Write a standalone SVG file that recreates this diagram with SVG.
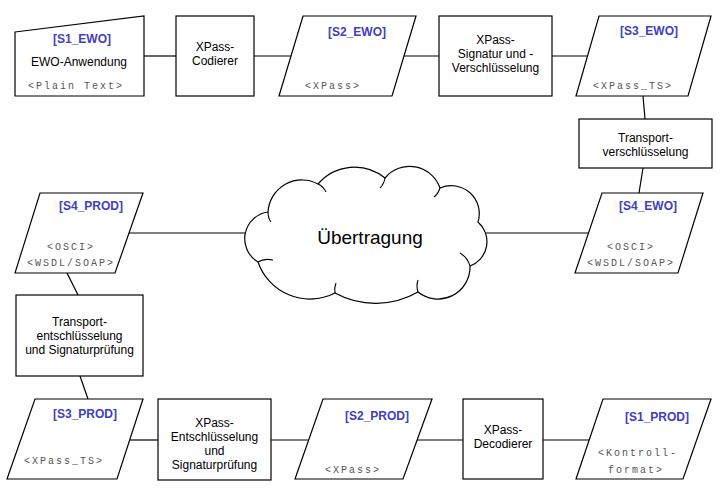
<svg xmlns="http://www.w3.org/2000/svg" width="723" height="490" viewBox="0 0 723 490">
<style>
.s{fill:#fff;stroke:#000;stroke-width:1.2}
.h{fill:none;stroke:#000;stroke-width:1.1}
.c line{stroke:#000;stroke-width:1.2}
.t{font-family:"Liberation Sans",Arial,sans-serif;font-size:12px;fill:#000;text-anchor:middle}
.b{font-family:"Liberation Sans",Arial,sans-serif;font-size:12px;font-weight:bold;fill:#4040c0;text-anchor:middle}
.m{font-family:"Liberation Mono","Courier New",monospace;font-size:10px;fill:#555;letter-spacing:2px;text-anchor:middle}
</style>
<rect width="723" height="490" fill="#fff"/>
<g class="c">
<line x1="144" y1="56" x2="176" y2="56"/>
<line x1="254" y1="56" x2="291" y2="56"/>
<line x1="404" y1="56" x2="439" y2="56"/>
<line x1="552" y1="56" x2="588" y2="56"/>
<line x1="643" y1="96" x2="645" y2="119"/>
<line x1="643" y1="168" x2="639" y2="193"/>
<line x1="486" y1="233" x2="589" y2="233"/>
<line x1="129" y1="233" x2="248" y2="233"/>
<line x1="67" y1="273" x2="78" y2="295"/>
<line x1="80" y1="376" x2="88" y2="399"/>
<line x1="130" y1="440" x2="158" y2="440"/>
<line x1="271" y1="440" x2="309" y2="440"/>
<line x1="417" y1="440" x2="463" y2="440"/>
<line x1="543" y1="440" x2="589" y2="440"/>
</g>
<g id="s1_ewo">
<path class="s" d="M15,32 L144,16 L144,96 L15,96 Z"/>
<text class="b" x="82" y="43">[S1_EWO]</text>
<text class="t" x="79" y="66">EWO-Anwendung</text>
<text class="m" x="76" y="89">&lt;Plain Text&gt;</text>
</g>
<g id="codierer">
<rect class="s" x="176" y="16" width="78" height="80"/>
<text class="t" x="215" y="51">XPass-</text>
<text class="t" x="215" y="65">Codierer</text>
</g>
<g id="s2_ewo">
<path class="s" d="M303,16 L416,16 L392,96 L279,96 Z"/>
<text class="b" x="357" y="36">[S2_EWO]</text>
<text class="m" x="333" y="89">&lt;XPass&gt;</text>
</g>
<g id="signatur">
<rect class="s" x="439" y="16" width="113" height="80"/>
<text class="t" x="495.5" y="44">XPass-</text>
<text class="t" x="495.5" y="58">Signatur und -</text>
<text class="t" x="495.5" y="72">Verschlüsselung</text>
</g>
<g id="s3_ewo">
<path class="s" d="M599,16 L711,16 L688,96 L576,96 Z"/>
<text class="b" x="649" y="35">[S3_EWO]</text>
<text class="m" x="633" y="89">&lt;XPass_TS&gt;</text>
</g>
<g id="transport_v">
<rect class="s" x="579" y="119" width="133" height="49"/>
<text class="t" x="645.5" y="142">Transport-</text>
<text class="t" x="645.5" y="156">verschlüsselung</text>
</g>
<g id="s4_ewo">
<path class="s" d="M602,193 L703,193 L678,273 L575,273 Z"/>
<text class="b" x="648" y="210">[S4_EWO]</text>
<text class="m" x="631" y="250">&lt;OSCI&gt;</text>
<text class="m" x="631" y="266">&lt;WSDL/SOAP&gt;</text>
</g>
<g id="uebertragung">
<path class="s" d="M258,262 A27,27 0 0 1 268,212 A34,34 0 0 1 318,184 A48,48 0 0 1 385,178 A32,32 0 0 1 440,188 A28,28 0 0 1 478,222 A26,26 0 0 1 470,266 A32,32 0 0 1 418,292 A85,85 0 0 1 335,293 A55,55 0 0 1 258,262 Z"/>
<path class="h" d="M258,262 Q264,258 273,260"/>
<path class="h" d="M268,212 Q268,218 271,222"/>
<path class="h" d="M318,184 Q323,186 326,192"/>
<path class="h" d="M385,178 Q384,184 380,188"/>
<path class="h" d="M440,188 Q438,194 434,197"/>
<path class="h" d="M470,266 Q468,258 460,253"/>
<path class="h" d="M418,292 Q416,286 418,280"/>
<path class="h" d="M335,293 Q334,288 336,283"/>
<text class="t" x="370" y="244" style="font-size:19px">Übertragung</text>
</g>
<g id="s4_prod">
<path class="s" d="M40,193 L143,193 L115,273 L15,273 Z"/>
<text class="b" x="91" y="210">[S4_PROD]</text>
<text class="m" x="71" y="250">&lt;OSCI&gt;</text>
<text class="m" x="71" y="266">&lt;WSDL/SOAP&gt;</text>
</g>
<g id="transport_e">
<rect class="s" x="16" y="295" width="127" height="81"/>
<text class="t" x="79.5" y="326">Transport-</text>
<text class="t" x="79.5" y="340">entschlüsselung</text>
<text class="t" x="79.5" y="354">und Signaturprüfung</text>
</g>
<g id="s3_prod">
<path class="s" d="M35,399 L143,399 L117,479 L7,479 Z"/>
<text class="b" x="85" y="418">[S3_PROD]</text>
<text class="m" x="64" y="464">&lt;XPass_TS&gt;</text>
</g>
<g id="entschluesselung">
<rect class="s" x="158" y="399" width="113" height="81"/>
<text class="t" x="214.5" y="427">XPass-</text>
<text class="t" x="214.5" y="441">Entschlüsselung</text>
<text class="t" x="214.5" y="455">und</text>
<text class="t" x="214.5" y="469">Signaturprüfung</text>
</g>
<g id="s2_prod">
<path class="s" d="M323,399 L432,399 L403,479 L295,479 Z"/>
<text class="b" x="377" y="420">[S2_PROD]</text>
<text class="m" x="353" y="473">&lt;XPass&gt;</text>
</g>
<g id="decodierer">
<rect class="s" x="463" y="399" width="80" height="80"/>
<text class="t" x="503" y="434">XPass-</text>
<text class="t" x="503" y="448">Decodierer</text>
</g>
<g id="s1_prod">
<path class="s" d="M603,399 L711,399 L683,479 L576,479 Z"/>
<text class="b" x="657" y="421">[S1_PROD]</text>
<text class="m" x="638" y="456">&lt;Kontroll-</text>
<text class="m" x="636" y="473">format&gt;</text>
</g>
</svg>
